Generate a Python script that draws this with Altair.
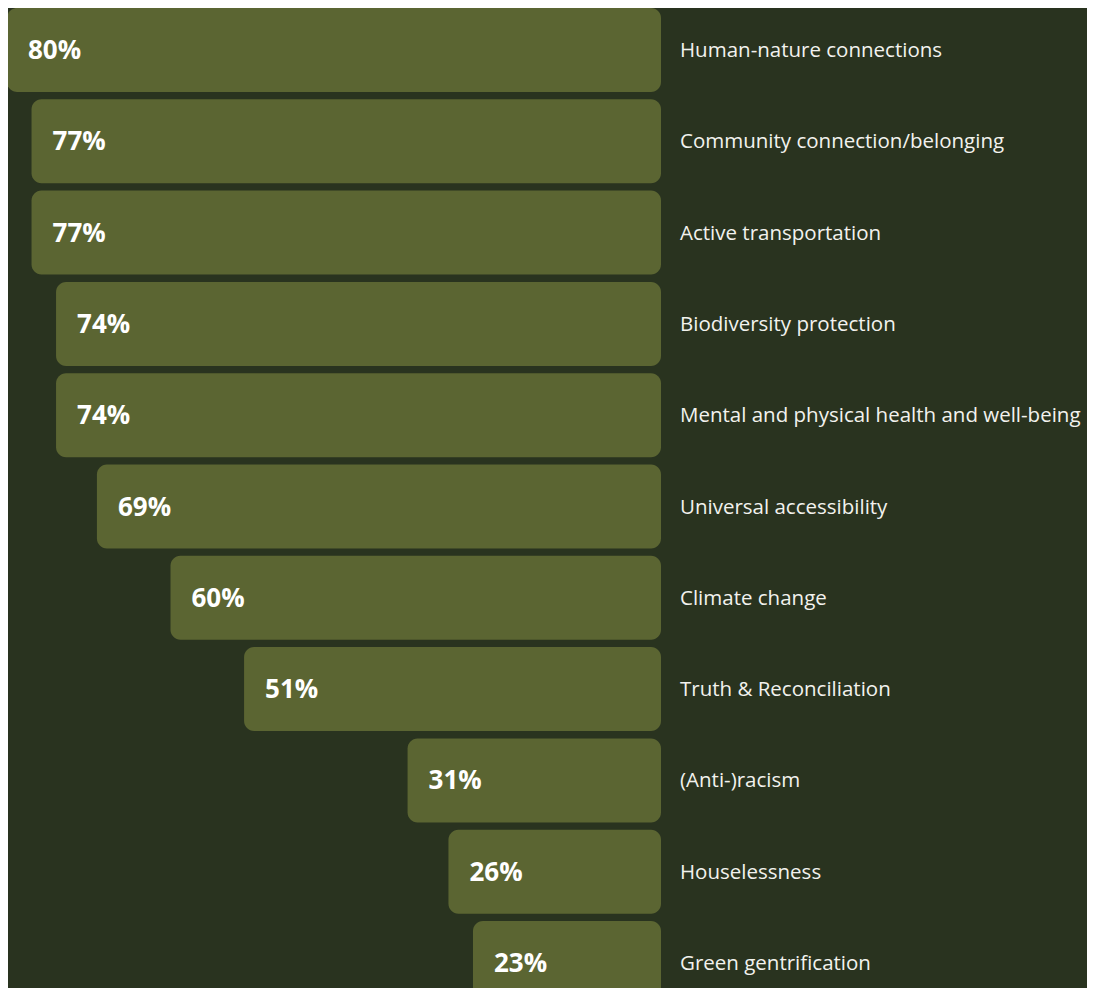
import altair as alt
import pandas as pd

categories = [
    "Human-nature connections",
    "Community connection/belonging",
    "Active transportation",
    "Biodiversity protection",
    "Mental and physical health and well-being",
    "Universal accessibility",
    "Climate change",
    "Truth & Reconciliation",
    "(Anti-)racism",
    "Houselessness",
    "Green gentrification",
]
values = [80, 77, 77, 74, 74, 69, 60, 51, 31, 26, 23]

df = pd.DataFrame({"category": categories, "value": values})
df["label"] = [f"{v}%" for v in values]
df["zero"] = 0

BG = "#29331f"
BAR = "#5b6532"

x_scale = alt.Scale(domain=[0, 80], range=[653, -1])
y_enc = alt.Y("category:N", sort=categories, axis=None,
              scale=alt.Scale(paddingInner=0.08, paddingOuter=0, range=[0, 997]))

base = alt.Chart(df)

bars = base.mark_bar(color=BAR, cornerRadius=10, clip=True).encode(
    x=alt.X("value:Q", scale=x_scale, axis=None),
    x2="zero:Q",
    y=y_enc,
)

pct = base.mark_text(align="left", baseline="middle", dx=21, dy=1, font="Open Sans",
                     fontWeight="bold", fontSize=26, color="white").encode(
    x=alt.X("value:Q", scale=x_scale, axis=None),
    y=y_enc,
    text="label:N",
)

cats = base.mark_text(align="left", baseline="middle", dx=19, dy=1, font="Open Sans",
                      fontSize=20.5, color="#f2f2ee").encode(
    x=alt.X("zero:Q", scale=x_scale, axis=None),
    y=y_enc,
    text="category:N",
)

chart = alt.layer(bars, pct, cats).properties(
    width=1079, height=980, background=BG, padding=0,
).configure_view(stroke=None)

chart.save("out.html", embed_options={"renderer": "svg", "actions": False})
